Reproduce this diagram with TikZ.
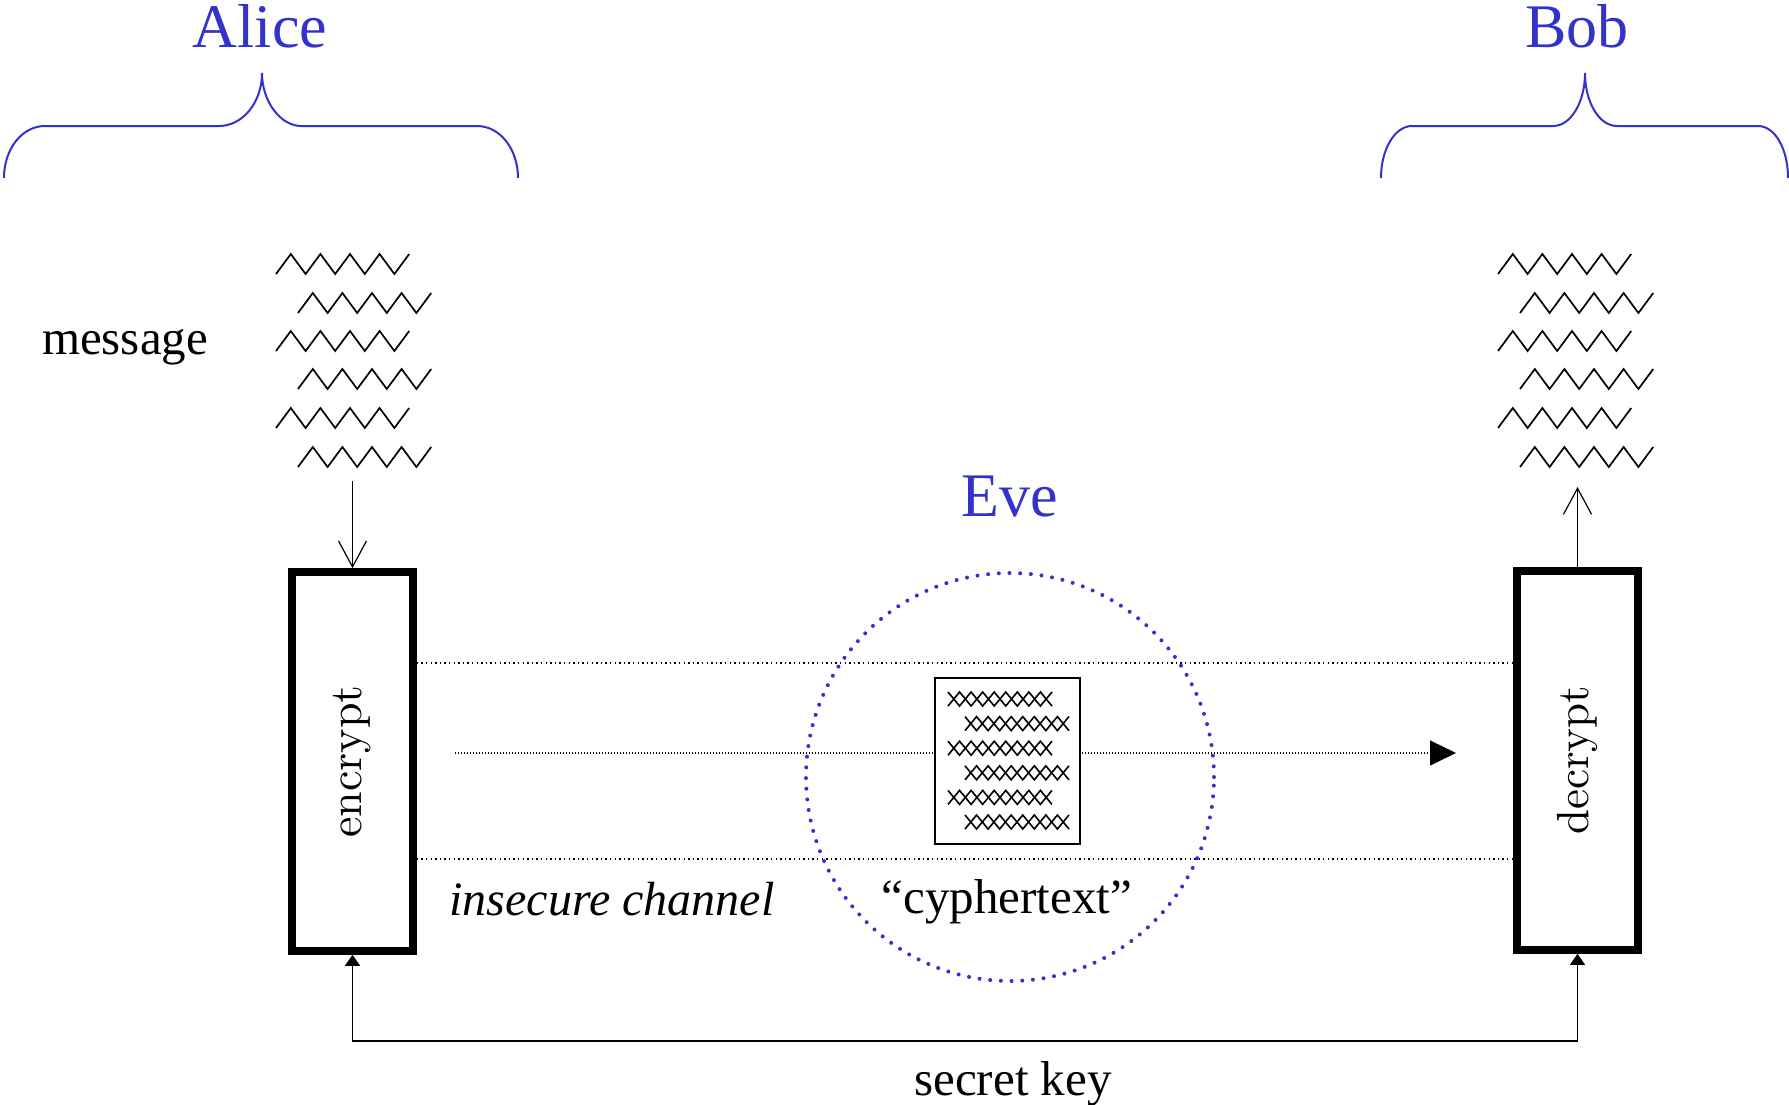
\documentclass[tikz,border=0pt]{standalone}
\usepackage{fontspec}
\usepackage{graphicx}
\usetikzlibrary{arrows.meta}
\newfontfamily\labelfont{Liberation Serif}
\newfontfamily\boxfont{lmroman10-regular.otf}
\definecolor{agentblue}{RGB}{51,51,204}

\tikzset{
  person/.style={text=agentblue, font=\labelfont\fontsize{31}{36}\selectfont, anchor=base, inner sep=0pt},
  caption/.style={font=\labelfont\fontsize{24.5}{29}\selectfont, anchor=base, inner sep=0pt},
  bracepath/.style={draw=agentblue, line width=1pt},
  cryptobox/.style={draw, line width=3.85pt, minimum width=60.5pt, minimum height=189.5pt,
                    inner sep=0pt, fill=white},
  cipherbox/.style={draw, line width=0.7pt, fill=white, minimum width=72.5pt,
                    minimum height=83pt, inner sep=0pt},
  evering/.style={circle, draw=agentblue, line width=2pt, line cap=round,
                  dash pattern=on 0pt off 5.35pt, minimum size=204pt, inner sep=0pt},
  wavy/.style={line width=0.85pt, line join=miter},
  xline/.style={line width=0.8pt},
  channel/.style={line width=0.8pt, dash pattern=on 0.7pt off 1.6pt},
  flow/.style={line width=0.55pt, dash pattern=on 0.5pt off 1pt,
               -{Triangle[length=13pt,width=12.5pt]}},
  msgarrow/.style={line width=0.6pt, -{Straight Barb[length=13pt,width=14pt]}},
  keyarrow/.style={line width=0.75pt,
                   {Triangle[length=5.5pt,width=7.5pt]}-{Triangle[length=5.5pt,width=7.5pt]}},
  zigrow/.pic={
    \draw[wavy] (0,0) \foreach \k in {1,...,4}{ -- ++(14.8,-20) -- ++(14.8,20) } -- ++(14.8,-20);
  },
  xrow/.pic={
    \draw[xline] (0,-7) \foreach \k in {1,...,4}{ -- ++(11.55,14) -- ++(11.55,-14) } -- ++(11.55,14);
    \draw[xline] (0,7) \foreach \k in {1,...,4}{ -- ++(11.55,-14) -- ++(11.55,14) } -- ++(11.55,-14);
  },
}

\begin{document}
\begin{tikzpicture}[x=0.5pt, y=-0.5pt]
  \useasboundingbox (0,0) rectangle (1789,1104);

  % parties
  \node[person] (alice) at (260,47) {Alice};
  \node[person] (bob) at (1577,47) {Bob};
  \node[person] (eveLabel) at (1010,516) {Eve};

  % braces under the names
  \draw[bracepath] (4,178) .. controls (4,149) and (22,126) .. (45,126) -- (219,126)
    .. controls (243,126) and (262,102) .. (262,73)
    .. controls (262,102) and (281,126) .. (301,126) -- (477,126)
    .. controls (500,126) and (518,149) .. (518,178);
  \draw[bracepath] (1381,178) .. controls (1381,149) and (1395,126) .. (1412,126) -- (1553,126)
    .. controls (1571,126) and (1585,102) .. (1585,73)
    .. controls (1585,102) and (1599,126) .. (1617,126) -- (1758,126)
    .. controls (1775,126) and (1788,149) .. (1788,178);

  % plaintext on both sides
  \node[caption] (message) at (125,354) {message};
  \foreach \yy/\xx in {274/276, 313/298, 351/276, 389/298, 428/276, 467/298} {
    \pic at (\xx,\yy) {zigrow};
    \pic at (\xx+1222,\yy) {zigrow};
  }
  \coordinate (plainA) at (352.5,481);
  \coordinate (plainB) at (1577.5,487);

  % encryption / decryption boxes
  \node[cryptobox] (enc) at (352.5,761.5) {\rotatebox{90}{\boxfont\fontsize{23}{27}\selectfont encrypt}};
  \node[cryptobox] (dec) at (1577.5,760.5) {\rotatebox{90}{\boxfont\fontsize{22.5}{27}\selectfont decrypt}};

  \draw[msgarrow] (plainA) -- (enc.north);
  \draw[msgarrow] (dec.north) -- (plainB);

  % insecure channel
  \coordinate (chanTop) at (0,663);
  \coordinate (chanBot) at (0,859);
  \draw[channel] (enc.east |- chanTop) -- (dec.west |- chanTop);
  \draw[channel] (enc.east |- chanBot) -- (dec.west |- chanBot);
  \coordinate (flowStart) at (455,753);
  \coordinate (flowEnd) at (1456,753);
  \draw[flow] (flowStart) -- (flowEnd);

  % eavesdropper
  \node[evering] (eve) at (1010,777) {};

  % ciphertext sheet
  \node[cipherbox] (cipher) at (1007.5,761) {};
  \foreach \yy/\xx in {699/948, 723.6/965, 748.2/948, 772.8/965, 797.4/948, 822/965} {
    \pic at (\xx,\yy) {xrow};
  }

  \node[caption, font=\labelfont\itshape\fontsize{24}{29}\selectfont] (insecure) at (612,915) {insecure channel};
  \node[caption] (cipherLabel) at (1007,913) {“cyphertext”};

  % shared key
  \coordinate (keyline) at (0,1041);
  \draw[keyarrow] (enc.south) -- (enc.south |- keyline) -- (dec.south |- keyline) -- (dec.south);
  \node[caption] (secret) at (1013,1095) {secret key};
\end{tikzpicture}
\end{document}
